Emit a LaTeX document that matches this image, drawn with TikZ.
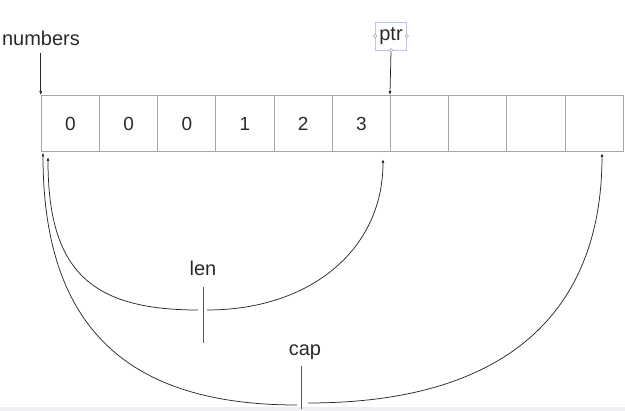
\documentclass[tikz,border=0pt]{standalone}
\usepackage{fontspec}
\setmainfont{Liberation Sans}
\usetikzlibrary{arrows.meta}
\definecolor{cellgray}{HTML}{A6A6A6}
\definecolor{selblue}{HTML}{B8C8EC}
\definecolor{bandgray}{HTML}{EEEFF3}
\definecolor{ink}{HTML}{2A2A2A}
\tikzset{
  cell/.style={draw=cellgray, line width=1.1pt, minimum width=58.2pt, minimum height=56pt, inner sep=0pt, font=\fontsize{19}{19}\selectfont, text=ink},
  lbl/.style={inner sep=1pt, font=\fontsize{20}{20}\selectfont, text=ink},
  conn/.style={draw=ink, line width=0.75pt, -{Latex[length=4pt,width=3pt]}},
  tick/.style={draw=ink!80, line width=1pt},
  handle/.style={circle, draw=gray!70, fill=white, inner sep=0pt, minimum size=3.5pt, line width=0.5pt}
}
\begin{document}
\begin{tikzpicture}[x=1pt,y=-1pt]
\useasboundingbox (0,0) rectangle (625,411);
\fill[bandgray] (0,407) rectangle (625,411);
% cells
\foreach \v [count=\i from 0] in {0,0,0,1,2,3,{},{},{},{}} {
  \node[cell] (c\i) at ({41.3+58.2*(\i+0.5)},123.7) {\v};
}
% labels
\node[lbl] (numbers) at (41,38) {numbers};
\node[lbl, draw=selblue, line width=0.6pt, minimum width=31pt, minimum height=28pt, inner sep=0pt] (ptr) at (391,36) {ptr};
\node[handle] (h1) at (ptr.west) {};
\node[handle] (h2) at (ptr.east) {};
\node[handle] (h3) at (ptr.south) {};
\node[lbl] (len) at (203,268) {len};
\node[lbl] (cap) at (305,352) {cap};
% pointer arrows
\draw[conn] (numbers.south -| c0.north west) ++(0,6) -- (c0.north west);
\draw[conn] (h3.south) -- (c6.north west);
% len
\coordinate (lentop) at (203,287);
\coordinate (lenbot) at (203,343);
\coordinate (lenL) at (198,310);
\coordinate (lenR) at (207,310);
\coordinate (lenA) at (48,157);
\coordinate (lenB) at (383,159);
\draw[tick] (lentop) -- (lenbot);
\draw[conn] (lenL) .. controls (90,310) and (48,270) .. (lenA);
\draw[conn] (lenR) .. controls (310,310) and (383,250) .. (lenB);
% cap
\coordinate (captop) at (301,366);
\coordinate (capbot) at (301,409);
\coordinate (capL) at (297,405);
\coordinate (capR) at (308,403);
\coordinate (capA) at (43,152.5);
\coordinate (capB) at (602,153);
\draw[tick] (captop) -- (capbot);
\draw[conn] (capL) .. controls (130,405) and (43,330) .. (capA);
\draw[conn] (capR) .. controls (520,403) and (602,300) .. (capB);
\end{tikzpicture}
\end{document}
